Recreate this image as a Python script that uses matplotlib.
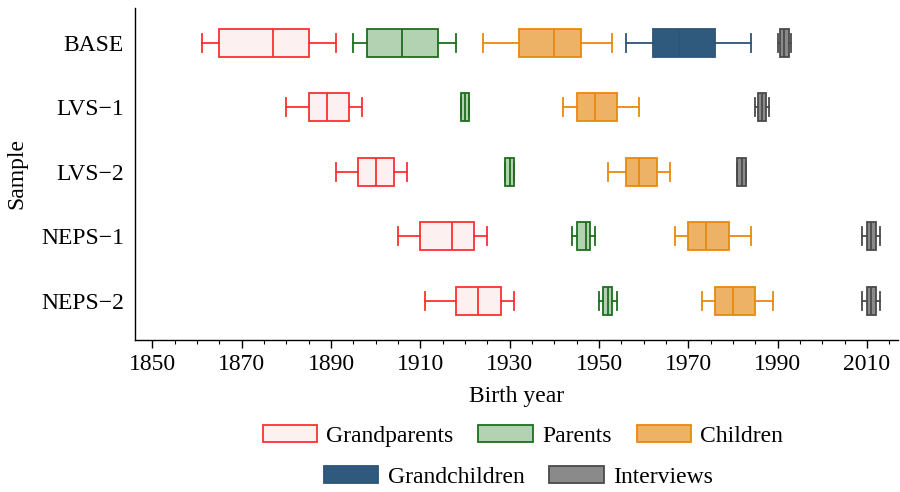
import matplotlib
matplotlib.use("Agg")
import matplotlib.pyplot as plt
from matplotlib.patches import Patch
from matplotlib.ticker import MultipleLocator

plt.rcParams['font.family'] = ['Liberation Serif', 'DejaVu Serif']
plt.rcParams['font.size'] = 17

samples = ["BASE", "LVS\u22121", "LVS\u22122", "NEPS\u22121", "NEPS\u22122"]
groups = ["Grandparents", "Parents", "Children", "Grandchildren", "Interviews"]
xticks = [1850, 1870, 1890, 1910, 1930, 1950, 1970, 1990, 2010]

# five-number summaries per sample: (whisker low, Q1, median, Q3, whisker high)
grandparents = [(1861, 1865, 1877, 1885, 1891), (1880, 1885, 1889, 1894, 1897),
                (1891, 1896, 1900, 1904, 1907), (1905, 1910, 1917, 1922, 1925),
                (1911, 1918, 1923, 1928, 1931)]
parents = [(1895, 1898, 1906, 1914, 1918), (1919, 1919, 1920, 1921, 1921),
           (1929, 1929, 1930, 1931, 1931), (1944, 1945, 1947, 1948, 1949),
           (1950, 1951, 1952, 1953, 1954)]
children = [(1924, 1932, 1940, 1946, 1953), (1942, 1945, 1949, 1954, 1959),
            (1952, 1956, 1959, 1963, 1966), (1967, 1970, 1974, 1979, 1984),
            (1973, 1976, 1980, 1985, 1989)]
grandchildren = [(1956, 1962, 1968, 1976, 1984), None, None, None, None]
interviews = [(1990, 1990.5, 1991.5, 1992.5, 1993), (1985, 1985.5, 1986.5, 1987.5, 1988),
              (1981, 1981, 1982, 1983, 1983), (2009, 2010, 2011, 2012, 2013),
              (2009, 2010, 2011, 2012, 2013)]

series = [grandparents, parents, children, grandchildren, interviews]
edge_colors = ["#FF3030", "#1E6E1E", "#E8890C", "#2D5479", "#4A4A4A"]
face_colors = ["#FDF0F0", "#B2D2B2", "#EDB266", "#2F5A7E", "#8A8A8A"]

fig = plt.figure(figsize=(9, 4.92), dpi=100)
ax = fig.add_axes([0.15, 0.309, 0.848, 0.675])

ypos = [5, 4, 3, 2, 1]
for data, ec, fc in zip(series, edge_colors, face_colors):
    stats, pos = [], []
    for s, y in zip(data, ypos):
        if s is None:
            continue
        lo, q1, med, q3, hi = s
        stats.append(dict(whislo=lo, q1=q1, med=med, q3=q3, whishi=hi, fliers=[]))
        pos.append(y)
    ax.bxp(stats, positions=pos, vert=False, widths=0.43, patch_artist=True,
           showfliers=False, capwidths=0.28,
           boxprops=dict(facecolor=fc, edgecolor=ec, linewidth=1.3),
           medianprops=dict(color=ec, linewidth=1.3),
           whiskerprops=dict(color=ec, linewidth=1.3),
           capprops=dict(color=ec, linewidth=1.3), manage_ticks=False)

ax.set_yticks(ypos)
ax.set_yticklabels(samples)
ax.set_ylim(0.395, 5.54)
ax.set_xlim(1846.1, 2017.0)
ax.set_xticks(xticks)
ax.xaxis.set_minor_locator(MultipleLocator(5))
ax.tick_params(axis='x', which='major', length=6, width=1, direction='out',
               labelsize=17, pad=4)
ax.tick_params(axis='x', which='minor', length=3, width=0.8, direction='out')
ax.tick_params(axis='y', length=0, pad=8)
for sp in ['top', 'right']:
    ax.spines[sp].set_visible(False)
ax.spines['left'].set_linewidth(1.0)
ax.spines['bottom'].set_linewidth(1.0)
ax.set_xlabel("Birth year", labelpad=8)
ax.set_ylabel("Sample", labelpad=10)

handles = [Patch(facecolor=fc, edgecolor=ec, linewidth=1.3, label=g)
           for g, ec, fc in zip(groups, edge_colors, face_colors)]
leg1 = fig.legend(handles=handles[:3], loc='center', bbox_to_anchor=(0.581, 0.114),
                  ncol=3, frameon=False, handlelength=2.3, handleheight=0.72,
                  columnspacing=1.05, handletextpad=0.4)
leg2 = fig.legend(handles=handles[3:], loc='center', bbox_to_anchor=(0.576, 0.03),
                  ncol=2, frameon=False, handlelength=2.3, handleheight=0.72,
                  columnspacing=1.05, handletextpad=0.4)

fig.savefig("out.png", dpi=100)
